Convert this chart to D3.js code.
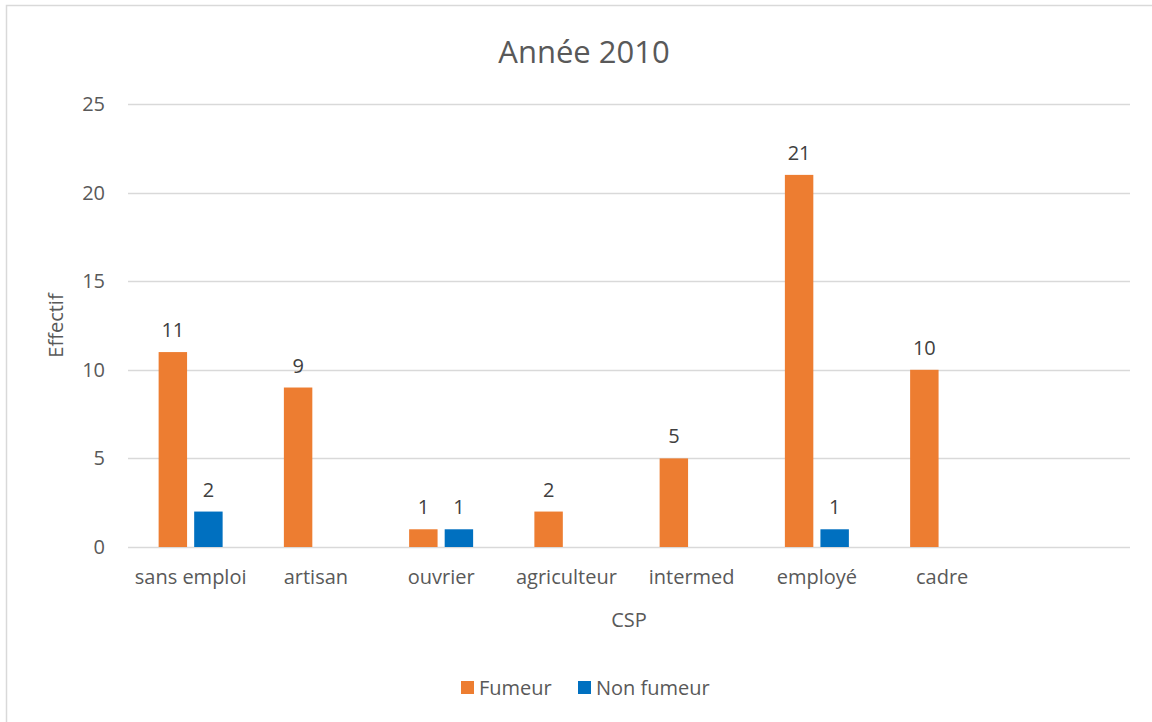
<!DOCTYPE html>
<html>
<head>
<meta charset="utf-8">
<script src="https://cdnjs.cloudflare.com/ajax/libs/d3/7.8.5/d3.min.js"></script>
<style>
    body { margin: 0; background: #fff; }
    text { font-family: "Open Sans", "Noto Sans", sans-serif; }
</style>
</head>
<body>
<svg width="1152" height="722"></svg>
<script>
// data
const categories = ["sans emploi", "artisan", "ouvrier", "agriculteur", "intermed", "employé", "cadre", ""];
const series = ["Fumeur", "Non fumeur"];
const fumeur = [11, 9, 1, 2, 5, 21, 10, null];
const nonFumeur = [2, null, 1, null, null, 1, null, null];
const yTicks = [0, 5, 10, 15, 20, 25];

const colours = { "Fumeur": "#ED7D31", "Non fumeur": "#0070C0" };

const margin = { top: 104, bottom: 175, left: 128, right: 22 };
const W = 1152, H = 722;
const width = W - margin.left - margin.right;
const height = H - margin.top - margin.bottom;

const svg = d3.select("svg");

// chart frame (right and bottom edges fall outside the picture)
svg.append("rect")
    .attr("x", 6.5).attr("y", 5.5)
    .attr("width", 1160).attr("height", 730)
    .attr("fill", "none")
    .attr("stroke", "#d9d9d9")
    .attr("stroke-width", 1.5);

const g = svg.append("g")
    .attr("transform", "translate(" + margin.left + "," + margin.top + ")");

const x = d3.scaleBand()
    .domain(d3.range(categories.length))
    .range([0, width]);

const x1 = d3.scaleBand()
    .domain(series)
    .range([x.bandwidth() / 2 - 32, x.bandwidth() / 2 + 32])
    .paddingInner(0.2);

const y = d3.scaleLinear()
    .domain([0, 25])
    .range([height, 0]);

// gridlines
g.append("g")
    .selectAll("line")
    .data(yTicks)
    .enter()
    .append("line")
    .attr("x1", 0)
    .attr("x2", width)
    .attr("y1", d => Math.round(y(d)) + 0.5)
    .attr("y2", d => Math.round(y(d)) + 0.5)
    .attr("stroke", "#d9d9d9")
    .attr("stroke-width", 1.5);

// y axis labels
const yAxis = g.append("g")
    .call(d3.axisLeft(y).tickValues(yTicks).tickSize(0).tickPadding(23));
yAxis.select(".domain").remove();
yAxis.selectAll("text")
    .attr("fill", "#595959")
    .style("font-size", "20px");

// x axis labels
const xAxis = g.append("g")
    .attr("transform", "translate(0," + height + ")")
    .call(d3.axisBottom(x).tickFormat(i => categories[i]).tickSize(0).tickPadding(23));
xAxis.select(".domain").remove();
xAxis.selectAll("text")
    .attr("fill", "#595959")
    .style("font-size", "20px");

// bars
const rows = categories.map((c, i) => ({
    i: i,
    values: [
        { key: "Fumeur", value: fumeur[i] },
        { key: "Non fumeur", value: nonFumeur[i] }
    ].filter(d => d.value !== null)
}));

const group = g.selectAll(".grp")
    .data(rows)
    .enter()
    .append("g")
    .attr("class", "grp")
    .attr("transform", d => "translate(" + x(d.i) + ",0)");

group.selectAll("rect")
    .data(d => d.values)
    .enter()
    .append("rect")
    .attr("x", d => x1(d.key))
    .attr("width", x1.bandwidth())
    .attr("y", d => y(d.value))
    .attr("height", d => y(0) - y(d.value))
    .attr("fill", d => colours[d.key]);

// data labels
group.selectAll(".lbl")
    .data(d => d.values)
    .enter()
    .append("text")
    .attr("class", "lbl")
    .attr("x", d => x1(d.key) + x1.bandwidth() / 2)
    .attr("y", d => y(d.value) - 15)
    .attr("text-anchor", "middle")
    .attr("fill", "#404040")
    .style("font-size", "20px")
    .text(d => d.value);

// title
svg.append("text")
    .attr("x", 584)
    .attr("y", 63)
    .attr("text-anchor", "middle")
    .attr("fill", "#595959")
    .style("font-size", "31px")
    .text("Année 2010");

// axis titles
svg.append("text")
    .attr("x", margin.left + width / 2)
    .attr("y", 627)
    .attr("text-anchor", "middle")
    .attr("fill", "#595959")
    .style("font-size", "20px")
    .text("CSP");

svg.append("text")
    .attr("transform", "translate(63," + (margin.top + y(12.5)) + ") rotate(-90)")
    .attr("text-anchor", "middle")
    .attr("fill", "#595959")
    .style("font-size", "20px")
    .text("Effectif");

// legend
const legend = svg.append("g")
    .attr("transform", "translate(461,681)");

const legendX = [0, 117];
series.forEach((s, i) => {
    const item = legend.append("g")
        .attr("transform", "translate(" + legendX[i] + ",0)");
    item.append("rect")
        .attr("width", 13)
        .attr("height", 13)
        .attr("fill", colours[s]);
    item.append("text")
        .attr("x", 18)
        .attr("y", 14)
        .attr("fill", "#595959")
        .style("font-size", "20px")
        .text(s);
});
</script>
</body>
</html>
